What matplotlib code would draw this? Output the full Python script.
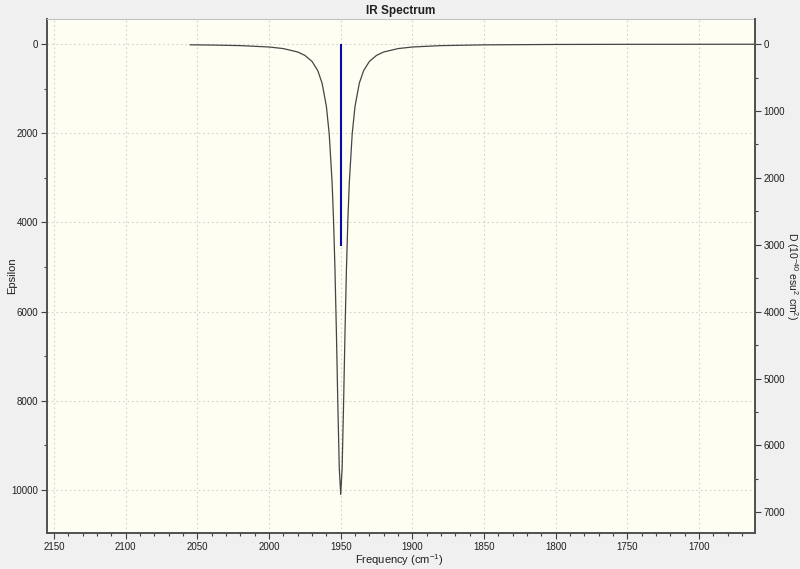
"""
IR spectrum (GaussView-style) redrawn with matplotlib.
"""
import matplotlib
matplotlib.use("Agg")
import matplotlib.pyplot as plt
import matplotlib.ticker as ticker
from matplotlib import font_manager

# Narrow sans if available, it is closer to the original UI font
_names = {f.name for f in font_manager.fontManager.ttflist}
FONT = "Liberation Sans Narrow" if "Liberation Sans Narrow" in _names else "Liberation Sans"
plt.rcParams["font.family"] = [FONT, "DejaVu Sans"]
plt.rcParams["mathtext.default"] = "regular"

# Broadened spectrum (cm-1, epsilon)
freq = [2055, 2040, 2020, 2000, 1990, 1980, 1975, 1970, 1966, 1963,
        1960, 1958, 1956, 1955, 1954, 1953, 1952, 1951, 1950, 1949,
        1948, 1947, 1946, 1945, 1944, 1942, 1940, 1937, 1934, 1930,
        1925, 1920, 1910, 1900, 1880, 1850, 1800, 1750, 1700, 1662]
epsilon = [15, 20, 33, 64, 100, 176, 252, 388, 594, 874,
           1393, 2020, 3108, 3941, 5050, 6464, 8080, 9506, 10100, 9506,
           8080, 6464, 5050, 3941, 3108, 2020, 1393, 874, 594, 388,
           252, 176, 100, 64, 33, 16, 7, 4, 3, 2]

# Stick (frequency, D in 10^-40 esu^2 cm^2)
stick_freq = [1950]
stick_d = [3025]

x_ticks = [2150, 2100, 2050, 2000, 1950, 1900, 1850, 1800, 1750, 1700]
eps_ticks = [0, 2000, 4000, 6000, 8000, 10000]
d_ticks = [0, 1000, 2000, 3000, 4000, 5000, 6000, 7000]

DARK = "#505050"
LIGHT = "#C4C4C4"

fig = plt.figure(figsize=(8, 5.69), dpi=100)
fig.patch.set_facecolor("#F0F0F0")
ax = fig.add_axes([0.0588, 0.0633, 0.885, 0.903])
ax.set_facecolor("#FEFEF2")

ax.plot(freq, epsilon, color="#454545", linewidth=0.9)

ax.set_xlim(2154.9, 1660.9)
ax.set_ylim(10965, -560)
ax.set_xticks(x_ticks)
ax.set_yticks(eps_ticks)
ax.xaxis.set_minor_locator(ticker.MultipleLocator(10))
ax.yaxis.set_minor_locator(ticker.MultipleLocator(1000))
ax.grid(True, which="major", linestyle=(0, (1.5, 2.5)), color="#D2D2D2", linewidth=0.8)
ax.set_axisbelow(True)

# right axis: D is epsilon scaled by 2/3
ax2 = ax.twinx()
lo, hi = ax.get_ylim()
ax2.set_ylim(lo * 2 / 3, hi * 2 / 3)
ax2.set_yticks(d_ticks)
ax2.yaxis.set_minor_locator(ticker.MultipleLocator(500))
ax2.vlines(stick_freq, 0, stick_d, color="#0A0AA8", linewidth=1.5)

for a in (ax, ax2):
    a.tick_params(which="major", direction="out", length=4.5, width=0.8,
                  color="#404040", labelsize=7, pad=2, labelcolor="#202020")
    a.tick_params(which="minor", direction="out", length=2.5, width=0.8, color="#404040")
ax2.tick_params(which="major", pad=1.5)

ax.spines["left"].set_color(DARK)
ax.spines["left"].set_linewidth(1.4)
ax.spines["bottom"].set_color(DARK)
ax.spines["bottom"].set_linewidth(1.4)
ax.spines["top"].set_color(LIGHT)
ax.spines["right"].set_color(LIGHT)
for s in ("left", "top", "bottom"):
    ax2.spines[s].set_visible(False)
ax2.spines["right"].set_color(DARK)
ax2.spines["right"].set_linewidth(1.4)

ax.set_title("IR Spectrum", fontsize=8.5, fontweight="bold", pad=4, color="#202020")
ax.set_xlabel("Frequency (cm$^{-1}$)", fontsize=8, va="center", color="#202020")
ax.xaxis.set_label_coords(0.497, -0.053)
ax.set_ylabel("Epsilon", fontsize=8, va="center", color="#202020")
ax.yaxis.set_label_coords(-0.049, 0.5)
ax2.set_ylabel("D (10$^{-40}$ esu$^{2}$ cm$^{2}$)", fontsize=7.5, rotation=270,
               va="center", color="#202020")
ax2.yaxis.set_label_coords(1.0525, 0.5)

fig.savefig("out.png", dpi=100, facecolor=fig.get_facecolor())
plt.close(fig)
